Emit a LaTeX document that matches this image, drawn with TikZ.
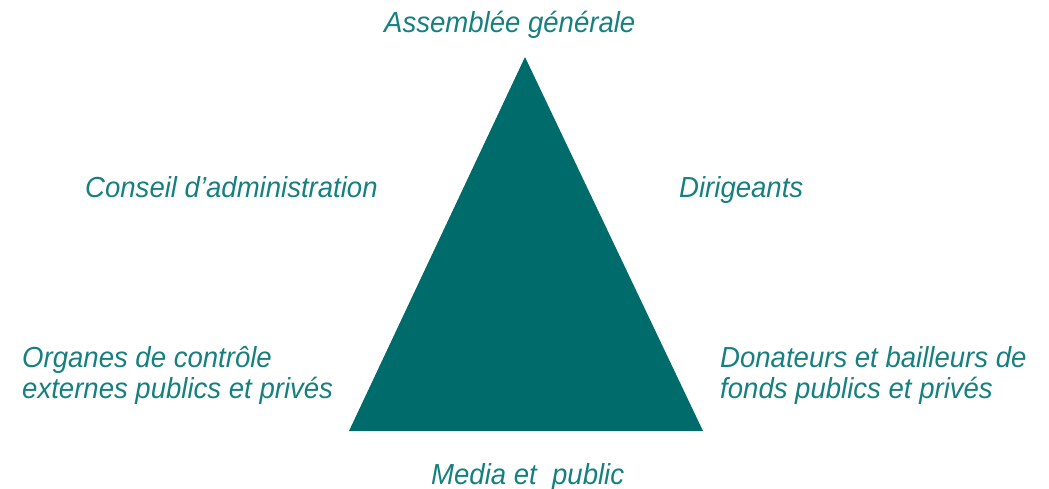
\documentclass[tikz,border=0pt]{standalone}
\usepackage{fontspec}
\setmainfont{Liberation Sans}[FakeStretch=0.95]
\definecolor{tealdark}{HTML}{006B6B}
\definecolor{tealtext}{HTML}{15807F}
\begin{document}
\begin{tikzpicture}[x=1pt,y=-1pt,
  actor/.style={anchor=base west,inner sep=0pt,text=tealtext,
    font=\fontsize{29}{31.5}\selectfont\itshape,align=left}]
\useasboundingbox (0,0) rectangle (1049,489);
% the governance triangle
\coordinate (apex) at (525,57);
\coordinate (bl) at (349,431);
\coordinate (br) at (703,431);
\fill[tealdark] (apex) -- (br) -- (bl) -- cycle;
% stakeholders around it (two-line labels sit on their last baseline)
\node[actor] (ag) at (384,32.5) {Assemblée générale};
\node[actor] (ca) at (85,198) {Conseil d’administration};
\node[actor] (dir) at (679,198) {Dirigeants};
\node[actor] (org) at (22,398.5) {Organes de contrôle\\externes publics et privés};
\node[actor] (don) at (720,398.5) {Donateurs et bailleurs de\\fonds publics et privés};
\node[actor] (med) at (431,484) {Media et \ public};
\end{tikzpicture}
\end{document}
